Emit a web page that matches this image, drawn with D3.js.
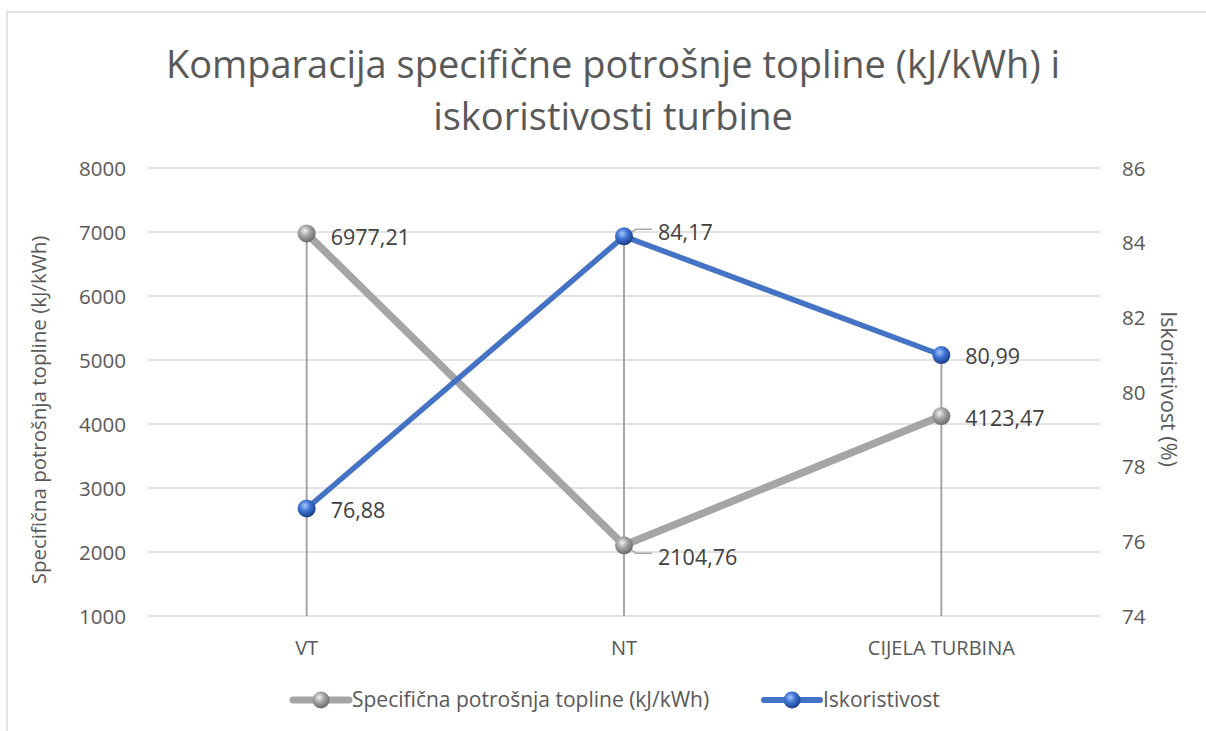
<!DOCTYPE html>
<html>
<head>
<meta charset="utf-8">
<script src="https://cdn.jsdelivr.net/npm/d3@7"></script>
<style>
  body { margin: 0; background: #fff; }
  svg text { font-family: "Open Sans", "Noto Sans", sans-serif; }
</style>
</head>
<body>
<svg id="chart" width="1206" height="731"></svg>
<script>
// Chart data
const categories = ["VT", "NT", "CIJELA TURBINA"];
const heatRate = [6977.21, 2104.76, 4123.47];      // kJ/kWh
const efficiency = [76.88, 84.17, 80.99];          // %
const leftTicks = [1000, 2000, 3000, 4000, 5000, 6000, 7000, 8000];
const rightTicks = [74, 76, 78, 80, 82, 84, 86];
const seriesNames = ["Specifična potrošnja topline (kJ/kWh)", "Iskoristivost"];
const fmt = v => v.toFixed(2).replace(".", ",");

const svg = d3.select("#chart");
const W = 1206, H = 731;
const plot = { left: 148, right: 1100, top: 168, bottom: 616 };

// Outer chart frame
svg.append("rect").attr("x", 7).attr("y", 12).attr("width", W + 10).attr("height", H + 10)
  .attr("fill", "#fff").attr("stroke", "#d9d9d9").attr("stroke-width", 1.5);

const defs = svg.append("defs");
function sphere(id, light, mid, dark) {
  const g = defs.append("radialGradient").attr("id", id)
    .attr("cx", "40%").attr("cy", "35%").attr("r", "65%");
  g.append("stop").attr("offset", "0%").attr("stop-color", light);
  g.append("stop").attr("offset", "45%").attr("stop-color", mid);
  g.append("stop").attr("offset", "100%").attr("stop-color", dark);
}
sphere("gGray", "#f2f2f2", "#a6a6a6", "#6b6b6b");
sphere("gBlue", "#a9c8f5", "#3f75d6", "#1c3f86");

const x = d3.scaleBand().domain(categories).range([plot.left, plot.right]);
const yL = d3.scaleLinear().domain([1000, 8000]).range([plot.bottom, plot.top]);
const yR = d3.scaleLinear().domain([74, 86]).range([plot.bottom, plot.top]);
const cx = c => x(c) + x.bandwidth() / 2;

// Title
svg.append("text").attr("x", 613).attr("y", 78).attr("text-anchor", "middle")
  .attr("font-size", 38).attr("fill", "#595959")
  .text("Komparacija specifične potrošnje topline (kJ/kWh) i");
svg.append("text").attr("x", 613).attr("y", 130).attr("text-anchor", "middle")
  .attr("font-size", 38).attr("fill", "#595959")
  .text("iskoristivosti turbine");

// Gridlines
svg.append("g").selectAll("line").data(leftTicks).join("line")
  .attr("x1", plot.left).attr("x2", plot.right)
  .attr("y1", d => yL(d)).attr("y2", d => yL(d))
  .attr("stroke", "#d9d9d9").attr("stroke-width", 1.5);

// Left axis
const axL = svg.append("g").attr("transform", `translate(${plot.left - 22},0)`)
  .call(d3.axisLeft(yL).tickValues(leftTicks).tickFormat(d3.format("d")).tickSize(0).tickPadding(0));
axL.select(".domain").remove();
axL.selectAll("text").attr("font-size", 20.5).attr("fill", "#595959").attr("dy", "0.35em");

// Right axis
const axR = svg.append("g").attr("transform", `translate(${plot.right + 22},0)`)
  .call(d3.axisRight(yR).tickValues(rightTicks).tickFormat(d3.format("d")).tickSize(0).tickPadding(0));
axR.select(".domain").remove();
axR.selectAll("text").attr("font-size", 20.5).attr("fill", "#595959").attr("dy", "0.35em");

// Category axis
const axX = svg.append("g").attr("transform", `translate(0,${plot.bottom + 32})`)
  .call(d3.axisBottom(x).tickSize(0).tickPadding(0));
axX.select(".domain").remove();
axX.selectAll("text").attr("font-size", 20).attr("fill", "#595959").attr("dy", "0.35em");

// Axis titles
svg.append("text").attr("transform", `translate(46,410) rotate(-90)`)
  .attr("text-anchor", "middle").attr("font-size", 20.5).attr("fill", "#595959")
  .text("Specifična potrošnja topline (kJ/kWh)");
svg.append("text").attr("transform", `translate(1161,389) rotate(90)`)
  .attr("text-anchor", "middle").attr("font-size", 21.5).attr("fill", "#595959")
  .text("Iskoristivost (%)");

// Drop lines from highest point of each category to the axis
svg.append("g").selectAll("line").data(categories).join("line")
  .attr("x1", cx).attr("x2", cx)
  .attr("y1", (c, i) => Math.min(yL(heatRate[i]), yR(efficiency[i])))
  .attr("y2", plot.bottom)
  .attr("stroke", "#a6a6a6").attr("stroke-width", 2);

// Series lines
const lineL = d3.line().x((d, i) => cx(categories[i])).y(d => yL(d));
const lineR = d3.line().x((d, i) => cx(categories[i])).y(d => yR(d));
svg.append("path").attr("d", lineL(heatRate)).attr("fill", "none")
  .attr("stroke", "#a5a5a5").attr("stroke-width", 7.5).attr("stroke-linejoin", "round");
svg.append("path").attr("d", lineR(efficiency)).attr("fill", "none")
  .attr("stroke", "#4472c4").attr("stroke-width", 5.5).attr("stroke-linejoin", "round");

// Leader lines for two labels
const leaders = [
  { x: cx("NT"), y: yR(efficiency[1]), dx: 28, dy: -7 },
  { x: cx("NT"), y: yL(heatRate[1]), dx: 28, dy: 8 }
];
svg.append("g").selectAll("path").data(leaders).join("path")
  .attr("d", d => `M${d.x + 4},${d.y + Math.sign(d.dy) * 2}L${d.x + 12},${d.y + d.dy}L${d.x + d.dx},${d.y + d.dy}`)
  .attr("fill", "none").attr("stroke", "#a6a6a6").attr("stroke-width", 1.5);

// Markers
svg.append("g").selectAll("circle").data(heatRate).join("circle")
  .attr("cx", (d, i) => cx(categories[i])).attr("cy", d => yL(d)).attr("r", 9)
  .attr("fill", "url(#gGray)");
svg.append("g").selectAll("circle").data(efficiency).join("circle")
  .attr("cx", (d, i) => cx(categories[i])).attr("cy", d => yR(d)).attr("r", 9)
  .attr("fill", "url(#gBlue)");

// Data labels
const labelOff = [[24, 4], [34, 12], [24, 2]];
const labelOffR = [[24, 2], [34, -4], [24, 1]];
svg.append("g").selectAll("text").data(heatRate).join("text")
  .attr("x", (d, i) => cx(categories[i]) + labelOff[i][0])
  .attr("y", (d, i) => yL(d) + labelOff[i][1])
  .attr("dy", "0.35em").attr("font-size", 21.5).attr("fill", "#404040").text(fmt);
svg.append("g").selectAll("text").data(efficiency).join("text")
  .attr("x", (d, i) => cx(categories[i]) + labelOffR[i][0])
  .attr("y", (d, i) => yR(d) + labelOffR[i][1])
  .attr("dy", "0.35em").attr("font-size", 21.5).attr("fill", "#404040").text(fmt);

// Legend
const legend = [
  { name: seriesNames[0], x: 291, stroke: "#a5a5a5", w: 7, grad: "url(#gGray)" },
  { name: seriesNames[1], x: 762, stroke: "#4472c4", w: 6, grad: "url(#gBlue)" }
];
const lg = svg.append("g").selectAll("g").data(legend).join("g")
  .attr("transform", d => `translate(${d.x},700)`);
lg.append("line").attr("x1", 2).attr("x2", 58).attr("y1", 0).attr("y2", 0)
  .attr("stroke", d => d.stroke).attr("stroke-width", d => d.w).attr("stroke-linecap", "round");
lg.append("circle").attr("cx", 30).attr("cy", 0).attr("r", 8.5).attr("fill", d => d.grad);
lg.append("text").attr("x", 61).attr("y", 0).attr("dy", "0.35em")
  .attr("font-size", 21).attr("fill", "#595959").text(d => d.name);
</script>
</body>
</html>
